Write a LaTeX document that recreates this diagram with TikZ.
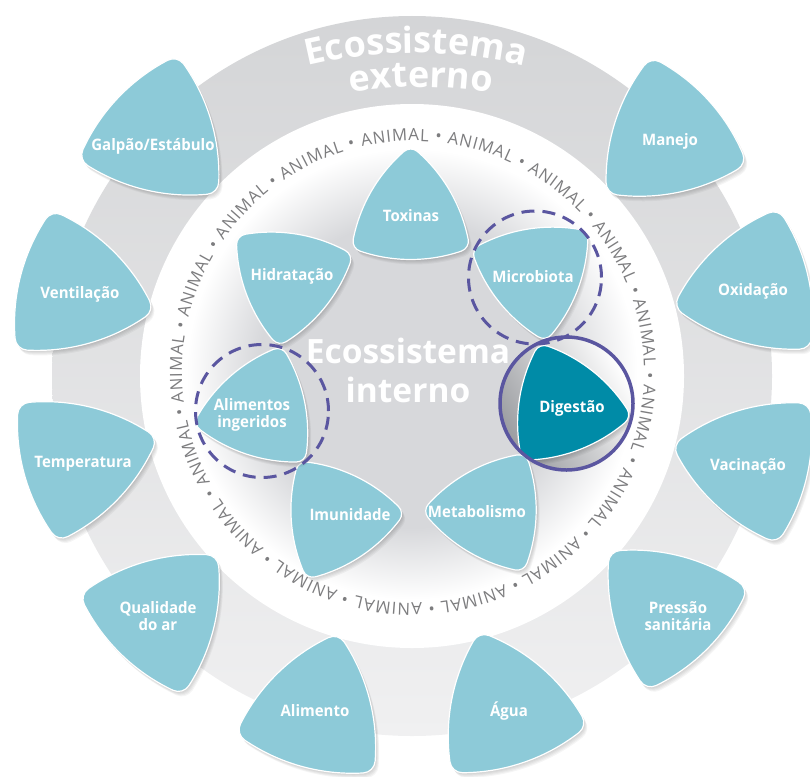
\documentclass[tikz,border=0pt]{standalone}
\usepackage{fontspec}
\setmainfont{Open Sans}
\newfontfamily\labfont[FakeStretch=0.95]{Open Sans}
\usetikzlibrary{decorations.text,calc}
\definecolor{pickc}{RGB}{141,202,216}
\definecolor{digc}{RGB}{0,139,167}
\definecolor{purp}{RGB}{90,86,160}
\definecolor{animc}{RGB}{125,125,127}
\definecolor{og1}{RGB}{212,213,215}
\definecolor{og2}{RGB}{240,240,241}
\definecolor{ig}{RGB}{215,216,219}
\definecolor{dg}{RGB}{155,157,161}
\pgfdeclareradialshading{innerg}{\pgfpoint{0bp}{0bp}}{color(0bp)=(ig); color(16bp)=(ig); color(23.5bp)=(white); color(50bp)=(white)}
\newcommand\animfmt{\fontsize{16.8}{17}\selectfont\color{animc}}
\newcommand\extfmt{\bfseries\fontsize{36}{36}\selectfont\color{white}}
% rounded curved triangle: x, y (pixel, y down), rotation, tip distance
\newcommand\pickpath[4]{($(#1,-#2)+({90+(#3)}:{0.84*#4})+({48.7+(#3)}:{0.16*#4})$)
 arc[start angle={48.7+(#3)}, end angle={131.3+(#3)}, radius={0.16*#4}]
 arc[start angle={131.3+(#3)}, end angle={168.7+(#3)}, radius={2.429*#4}]
 arc[start angle={168.7+(#3)}, end angle={251.3+(#3)}, radius={0.16*#4}]
 arc[start angle={251.3+(#3)}, end angle={288.7+(#3)}, radius={2.429*#4}]
 arc[start angle={288.7+(#3)}, end angle={371.3+(#3)}, radius={0.16*#4}]
 arc[start angle={371.3+(#3)}, end angle={408.7+(#3)}, radius={2.429*#4}] -- cycle}
\newcommand\pick[5]{%
 \foreach \s in {1,2,3,4,5}{\fill[black,opacity=0.04,shift={(0.7*\s,-1*\s)}] \pickpath{#1}{#2}{#3}{#4};}
 \filldraw[fill=#5, draw=white, line width=1.2pt] \pickpath{#1}{#2}{#3}{#4};}
\tikzset{
 lab/.style={text=white, font=\labfont\bfseries\fontsize{15.8}{17.5}\selectfont, inner sep=0pt, text height=11.3pt, text depth=0pt},
 lab2/.style={text=white, font=\labfont\bfseries\fontsize{15.8}{17.5}\selectfont, inner sep=0pt, align=center},
 dashc/.style={circle, draw=purp, line width=3pt, dash pattern=on 13pt off 8pt, minimum size=133pt, inner sep=0pt},
 solidc/.style={circle, draw=purp, line width=3.5pt, minimum size=133pt, inner sep=0pt},
 bigtxt/.style={text=white, font=\bfseries\fontsize{33.5}{39}\selectfont, align=center, inner sep=0pt}
}
\begin{document}
\begin{tikzpicture}[x=1pt,y=1pt]
\useasboundingbox (0,0) rectangle (810,-776);
% outer grey disc
\shade[top color=og1, bottom color=og2] (412,-376) circle[radius=360];
% Ecossistema externo
\path[decorate, decoration={text along path, text align=center, text={|\extfmt|Ecossistema}}]
 ($(416,-513)+(112:460)$) arc[start angle=112, end angle=68, radius=460];
\path[decorate, decoration={text along path, text align=center, text={|\extfmt|externo}}]
 ($(421,-513)+(112:426)$) arc[start angle=112, end angle=68, radius=426];
% white ring and inner disc
\fill[white] (412,-376) circle[radius=272];
\shade[shading=innerg] (412,-374) circle[radius=240];
% ANIMAL ring
\path[decorate, decoration={text along path, text align=fit to path,
 text={|\animfmt|ANIMAL • ANIMAL • ANIMAL • ANIMAL • ANIMAL • ANIMAL • ANIMAL • ANIMAL • ANIMAL • ANIMAL • ANIMAL • ANIMAL • ANIMAL • ANIMAL • ANIMAL • ANIMAL • ANIMAL •}}]
 ($(413,-372)+(102.7:231)$) arc[start angle=102.7, end angle=-255.6, radius=231];
% grey backing of Digestão circle
\shade[bottom color=dg, top color=white, shading angle=-60] (566.5,-403.5) circle[radius=66.5];
% inner shapes
\pick{410.7}{214}{0}{65}{pickc}
\pick{535}{274}{-51}{65}{pickc}
\pick{564.3}{406.7}{21.6}{65}{digc}
\pick{490.7}{512}{-31}{65}{pickc}
\pick{336.7}{517.7}{34}{65}{pickc}
\pick{260}{410.7}{-18.6}{65}{pickc}
\pick{289.3}{279}{50.8}{65}{pickc}
% outer shapes
\pick{158}{136}{-13.5}{79}{pickc}
\pick{74}{290}{15.7}{79}{pickc}
\pick{78}{461}{46}{79}{pickc}
\pick{160}{615}{-44}{79}{pickc}
\pick{316}{713}{-15.5}{79}{pickc}
\pick{506}{710}{19}{79}{pickc}
\pick{668}{610}{45}{79}{pickc}
\pick{753}{464}{-43}{79}{pickc}
\pick{754}{288}{-17}{79}{pickc}
\pick{668}{138}{12}{79}{pickc}
% labels
\node[lab] (galpao) at (153,-145) {Galpão/Estábulo};
\node[lab] (ventilacao) at (80,-293) {Ventilação};
\node[lab] (temperatura) at (83,-462) {Temperatura};
\node[lab2] (qualidade) at (158,-616) {Qualidade\\do ar};
\node[lab] (alimento) at (315,-711) {Alimento};
\node[lab] (agua) at (509,-711) {Água};
\node[lab2] (pressao) at (678,-616) {Pressão\\sanitária};
\node[lab] (vacinacao) at (748,-465) {Vacinação};
\node[lab] (oxidacao) at (753,-290) {Oxidação};
\node[lab] (manejo) at (670,-140) {Manejo};
\node[lab] (toxinas) at (411,-216) {Toxinas};
\node[lab] (microbiota) at (533,-277) {Microbiota};
\node[lab] (digestao) at (572,-407) {Digestão};
\node[lab] (metabolismo) at (477,-512) {Metabolismo};
\node[lab] (imunidade) at (350,-515) {Imunidade};
\node[lab2] (alimentos) at (252,-415) {Alimentos\\ingeridos};
\node[lab] (hidratacao) at (292,-275) {Hidratação};
\node[bigtxt] (interno) at (408,-370.5) {Ecossistema\\interno};
% highlight circles
\node[dashc] (cmicro) at (535,-277.5) {};
\node[dashc] (calim) at (262,-411) {};
\node[solidc] (cdig) at (566.5,-403.5) {};
\end{tikzpicture}
\end{document}
